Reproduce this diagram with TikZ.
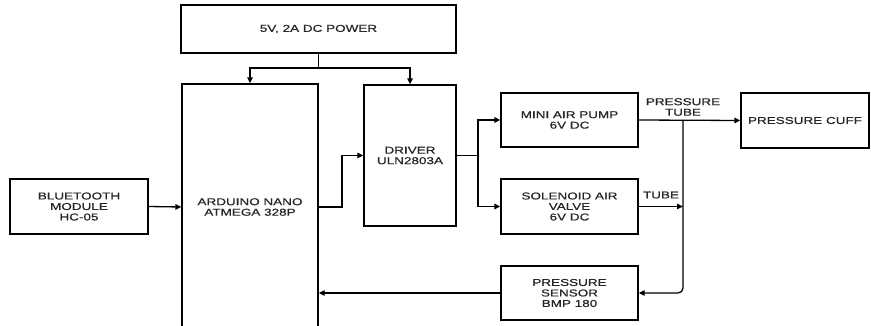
\documentclass[tikz,border=0pt]{standalone}
\usepackage{fontspec}
\setmainfont{Liberation Sans}[FakeStretch=1.35,FakeBold=0.5]
\usetikzlibrary{arrows.meta}
\begin{document}
\begin{tikzpicture}[x=1pt,y=-1pt,
  box/.style={draw, line width=1.3pt, inner sep=0pt, align=center, font=\fontsize{10}{10.5}\selectfont, text=black!85},
  lbl/.style={inner sep=0pt, align=center, font=\fontsize{10}{10.5}\selectfont, text=black!85},
  conn/.style={line width=1.3pt},
  arr/.style={conn, -{Triangle[length=6pt,width=5.5pt]}}]
\clip (0,0) rectangle (871,326);
\fill[white] (0,0) rectangle (871,326);
\node[box, minimum width=275pt, minimum height=48pt] (power) at (318.5,29) {5V, 2A DC POWER};
\node[box, minimum width=136pt, minimum height=246pt] (arduino) at (250,207) {ARDUINO NANO\\ATMEGA 328P};
\node[box, minimum width=92pt, minimum height=141pt] (driver) at (410,155.5) {DRIVER\\ULN2803A};
\node[box, minimum width=137pt, minimum height=54pt] (pump) at (569.5,120) {MINI AIR PUMP\\6V DC};
\node[box, minimum width=137pt, minimum height=55pt] (valve) at (569.5,206.5) {SOLENOID AIR\\VALVE\\6V DC};
\node[box, minimum width=128pt, minimum height=55pt] (cuff) at (805,120.5) {PRESSURE CUFF};
\node[box, minimum width=137pt, minimum height=54pt] (sensor) at (569.5,293) {PRESSURE\\SENSOR\\BMP 180};
\node[box, minimum width=138pt, minimum height=55pt] (bt) at (79,206.5) {BLUETOOTH\\MODULE\\HC-05};
\node[lbl] (ptlabel) at (683,107) {PRESSURE\\TUBE};
\node[lbl] (tlabel) at (661,195) {TUBE};
\coordinate (pj) at (318.5,68);
\coordinate (tj) at (683,120);
\draw[conn] (power.south) -- (pj);
\draw[arr] (pj) -| (arduino.north);
\draw[arr] (pj) -| (driver.north);
\draw[arr] (arduino.east) -- (342,207) |- (driver.west);
\draw[arr] (driver.east) -- (478,155.5) |- (pump.west);
\draw[arr] (478,155.5) |- (valve.west);
\draw[arr] (pump.east) -- (cuff.west);
\draw[arr] (valve.east) -- (valve.east -| tj);
\draw[arr, rounded corners=5pt] (tj) |- (sensor.east);
\draw[arr] (sensor.west) -- (sensor.west -| arduino.east);
\draw[arr] (bt.east) -- (arduino.west);
\end{tikzpicture}
\end{document}
